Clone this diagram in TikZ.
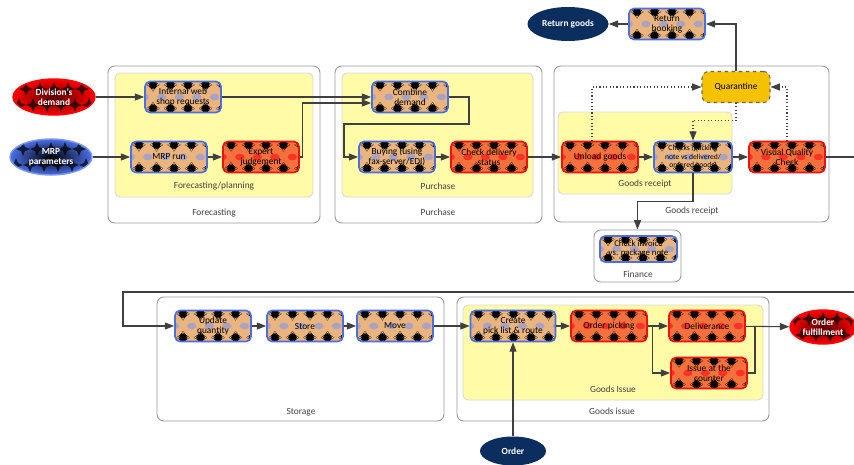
\documentclass[tikz,border=0pt]{standalone}
\usepackage{fontspec}
\setmainfont{Carlito}
\setsansfont{Carlito}
\usepackage{tikz}
\usetikzlibrary{arrows.meta, positioning, calc, shapes.geometric}
\tikzset{every node/.style={font=\sffamily\fontsize{8}{8.6}\selectfont}}
\definecolor{procblue}{HTML}{4A6EE8}
\definecolor{procred}{HTML}{F01010}
\definecolor{tanfill}{HTML}{E9B47E}
\definecolor{orangefill}{HTML}{F4703C}
\definecolor{spotblue}{HTML}{8E9BE0}
\definecolor{spotred}{HTML}{FF1A1A}
\definecolor{laneyellow}{HTML}{FFFBA6}
\definecolor{quargold}{HTML}{F4C200}
\definecolor{navy}{HTML}{0C2E5E}
\definecolor{flowgray}{HTML}{404040}

% four-pointed star used in the box fills
\newcommand{\starat}[2][]{\fill[black,#1] (#2) +(0,2.1mm) -- +(.6mm,.6mm) -- +(2.1mm,0) -- +(.6mm,-.6mm) -- +(0,-2.1mm) -- +(-.6mm,-.6mm) -- +(-2.1mm,0) -- +(-.6mm,.6mm) -- cycle;}
\newcommand{\procdeco}[1]{%
  \foreach \k in {0,...,5}{%
    \fill[#1, opacity=.7] ([xshift=\k*5.25mm-0.2mm]path picture bounding box.west) ellipse (1.4mm and 1mm);
    \starat{[shift={(\k*5.25mm+2.4mm,-1mm)}]path picture bounding box.north west}
    \starat{[shift={(\k*5.25mm+2.4mm,1.2mm)}]path picture bounding box.south west}
  }}
\newcommand{\ovaldeco}{%
  \foreach \i in {-3,...,3}{%
    \starat[opacity=.7]{[shift={(\i*4.2mm,2.4mm)}]path picture bounding box.center}
    \starat[opacity=.7]{[shift={(\i*4.2mm+2.1mm,-2.4mm)}]path picture bounding box.center}
  }}

\begin{document}
\begin{tikzpicture}[
    x=0.3mm, y=-0.3mm,
    >={Triangle[length=8pt, width=6pt]},
    proc/.style={rectangle, rounded corners=1.5mm, minimum width=22.8mm, minimum height=9.3mm,
      line width=1.4pt, align=center, inner sep=1pt},
    blueproc/.style={proc, draw=procblue, fill=tanfill, path picture={\procdeco{spotblue}}},
    redproc/.style={proc, draw=procred, fill=orangefill, path picture={\procdeco{spotred}}},
    term/.style={ellipse, minimum width=24.6mm, minimum height=10.8mm, inner sep=0pt, align=center,
      text=white, font=\sffamily\bfseries\fontsize{8}{8.6}\selectfont},
    navyterm/.style={term, fill=navy, minimum width=24.3mm, minimum height=10.2mm},
    redterm/.style={term, draw=red, line width=1.2pt, inner color=red!35!black, outer color=red,
      path picture={\ovaldeco}},
    blueterm/.style={term, draw=procblue!70!white, line width=1.2pt, inner color=black, outer color=procblue,
      path picture={\ovaldeco}},
    quar/.style={rectangle, rounded corners=2mm, fill=quargold, draw=black!60, dashed, line width=.9pt,
      minimum width=20.4mm, minimum height=9.3mm},
    outerbox/.style={draw=black!40, fill=white, line width=.8pt, rounded corners=2mm},
    lane/.style={draw=black!15, fill=laneyellow, line width=.8pt, rounded corners=1.5mm},
    grouplabel/.style={text=black!75},
    flow/.style={->, draw=flowgray, line width=.9pt},
    link/.style={draw=flowgray, line width=.9pt},
    dotflow/.style={flow, dotted},
  ]
  \useasboundingbox (0,0) rectangle (854,464);

  % groups
  \draw[outerbox] (108,66) rectangle (320,223);
  \draw[lane] (115,73) rectangle (313,197);
  \node[grouplabel] (lblplanning) at (214,186) {Forecasting/planning};
  \node[grouplabel] (lblforecast) at (214,213) {Forecasting};

  \draw[outerbox] (335,66) rectangle (542,223);
  \draw[lane] (342,73) rectangle (533,197);
  \node[grouplabel] (lblpurchin) at (438,186) {Purchase};
  \node[grouplabel] (lblpurch) at (438,212) {Purchase};

  \draw[outerbox] (554,66) rectangle (829,222);
  \draw[lane] (558,112) rectangle (732,194);
  \node[grouplabel] (lblreceiptin) at (645,184) {Goods receipt};
  \node[grouplabel] (lblreceipt) at (692,211) {Goods receipt};

  \node[outerbox, minimum width=26.1mm, minimum height=15.6mm] (finbox) at (637.5,256) {};
  \node[grouplabel] (lblfinance) at (638,274) {Finance};

  \draw[outerbox] (157,297) rectangle (444,421);
  \node[grouplabel] (lblstorage) at (301,412) {Storage};

  \draw[outerbox] (457,297) rectangle (769,421);
  \draw[lane] (463,305) rectangle (763,400);
  \node[grouplabel] (lblissuein) at (613,389) {Goods Issue};
  \node[grouplabel] (lblissue) at (612,411) {Goods issue};

  % top row
  \node[navyterm] (retgoods) at (568,24) {Return goods};
  \node[blueproc] (retbook) at (667,24) {Return\\booking};
  \node[quar] (quar) at (736,87) {Quarantine};
  \node[redterm] (division) at (54,97) {Division's\\demand};
  \node[blueterm] (mrpparam) at (51,157) {MRP\\parameters};
  \node[blueproc] (webshop) at (183,97) {Internal web\\shop requests};
  \node[blueproc] (mrprun) at (169,157) {MRP run};
  \node[redproc] (expert) at (261,157) {Expert\\judgement};
  \node[blueproc] (combine) at (410,97) {Combine\\demand};
  \node[blueproc] (buying) at (397,157) {Buying (using\\fax-server/EDI)};
  \node[redproc] (delstatus) at (489,157) {Check delivery\\status};
  \node[redproc] (unload) at (600,157) {Unload goods};
  \node[blueproc, minimum width=23.4mm, font=\sffamily\fontsize{6.5}{7}\selectfont] (checks) at (693,157)
    {Checks (packing\\note vs delivered/\\ordered goods)};
  \node[redproc] (visual) at (787,157) {Visual Quality\\Check};
  \node[blueproc, minimum width=23.1mm, minimum height=7.8mm, font=\sffamily\fontsize{7.5}{8}\selectfont] (invoice) at (638.5,249)
    {Check invoice\\vs. package note};
  \coordinate (edgeout) at (854,157);

  % bottom row
  \coordinate (edgein) at (854,292);
  \node[blueproc] (update) at (213,326) {Update\\quantity};
  \node[blueproc] (store) at (305,326) {Store};
  \node[blueproc] (move) at (395,326) {Move};
  \node[blueproc, minimum width=25.5mm] (picklist) at (513,326) {Create\\pick list \& route};
  \node[redproc] (picking) at (609,326) {Order picking};
  \node[redproc] (deliver) at (707,326) {Deliverance};
  \node[redproc] (counter) at (709,373) {Issue at the\\counter};
  \coordinate (join) at (755,326);
  \node[redterm, minimum width=19.8mm, minimum height=10.2mm] (fulfil) at (823,327) {Order\\fulfillment};
  \node[navyterm, minimum width=19.8mm, minimum height=8.7mm] (order) at (513,451) {Order};

  % connectors
  \draw[flow] (division) -- (webshop);
  \draw[flow] (mrpparam) -- (mrprun);
  \draw[flow] (mrprun) -- (expert);
  \draw[flow] (webshop) -- (combine);
  \draw[flow] (expert.east) -- ++(3,0) |- ([yshift=-1.8mm]combine.west);
  \draw[flow] (combine.east) -| (469,124) -| (344,157) -- (buying.west);
  \draw[flow] (buying) -- (delstatus);
  \draw[flow] (delstatus) -- (unload);
  \draw[flow] (unload) -- (checks);
  \draw[flow] (checks) -- (visual);
  \draw[link] (visual) -- (edgeout);
  \draw[dotflow] ([xshift=-2.4mm]unload.north) |- (quar.west);
  \draw[dotflow] (quar.south) -- ++(0,17) -| (checks.north);
  \draw[dotflow] (visual.north) |- (quar.east);
  \draw[flow] (quar.north) |- (retbook.east);
  \draw[flow] (retbook) -- (retgoods);
  \draw[flow] (checks.south) -- ++(0,28) -| (finbox.north);

  \draw[flow] (edgein) -- (123,292) |- (update);
  \draw[flow] (update) -- (store);
  \draw[flow] (store) -- (move);
  \draw[flow] (move) -- (picklist);
  \draw[flow] (order) -- (picklist);
  \draw[flow] (picklist) -- (picking);
  \draw[flow] (picking) -- (deliver);
  \draw[flow] (picking.east) -- ++(5,0) |- (counter);
  \draw[flow] (deliver) -- (fulfil);
  \draw[link] (counter.east) -| (join);
\end{tikzpicture}
\end{document}
